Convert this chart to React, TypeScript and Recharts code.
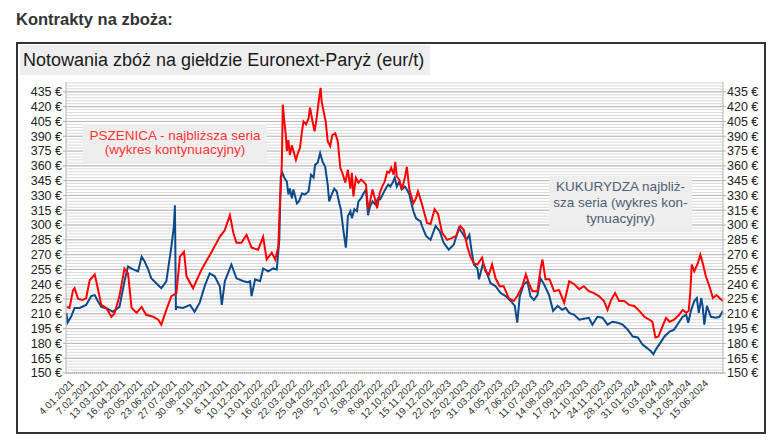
import React from "react";
import { LineChart, Line, XAxis, YAxis, CartesianGrid } from "recharts";

// dni liczone od 4.01.2021
const START = Date.UTC(2021, 0, 4);

const tickLabels = [
  "4.01.2021", "7.02.2021", "13.03.2021", "16.04.2021", "20.05.2021", "23.06.2021",
  "27.07.2021", "30.08.2021", "3.10.2021", "6.11.2021", "10.12.2021", "13.01.2022",
  "16.02.2022", "22.03.2022", "25.04.2022", "29.05.2022", "2.07.2022", "5.08.2022",
  "8.09.2022", "12.10.2022", "15.11.2022", "19.12.2022", "22.01.2023", "25.02.2023",
  "31.03.2023", "4.05.2023", "7.06.2023", "11.07.2023", "14.08.2023", "17.09.2023",
  "21.10.2023", "24.11.2023", "28.12.2023", "31.01.2024", "5.03.2024", "8.04.2024",
  "12.05.2024", "15.06.2024",
];

const priceTicks = [150, 165, 180, 195, 210, 225, 240, 255, 270, 285, 300, 315, 330, 345, 360, 375, 390, 405, 420, 435];

// pszenica - najbliższa seria
const wheatDays = [
  -6, 0, 7, 10, 17, 26, 33, 40, 50, 56, 63, 73, 83, 89, 99, 109, 116, 123, 133, 143,
  152, 166, 176, 182, 192, 202, 212, 219, 227, 232, 245, 262, 282, 298, 308, 318, 325, 331, 341, 351,
  361, 374, 384, 391, 401, 408, 414, 417,
  421, 423, 426, 429, 431, 434, 437, 441, 444, 449, 453, 457, 461, 464, 469, 474, 477, 482, 486, 490,
  495, 498, 500, 504, 508, 512, 517, 521, 527, 532, 537, 541, 547, 552, 557, 560, 563, 568, 573, 578,
  583, 588, 592, 596, 601, 606, 610, 615, 620, 625, 630, 634, 638, 643, 646, 649, 654, 659, 665, 669,
  674, 678, 682, 687, 691, 696,
  699, 709, 716, 724, 731, 739, 749, 759, 767, 775, 782, 789, 795, 802, 809, 818, 825, 832, 838, 845,
  853, 861, 871, 881, 888, 898, 905, 911, 918, 928, 934, 938, 944, 952, 961, 971, 981, 991, 1001, 1011,
  1020, 1030, 1040, 1050, 1060, 1067, 1074, 1082, 1090, 1100, 1110, 1120, 1130, 1140, 1150, 1156, 1162, 1168, 1175, 1183,
  1190, 1199, 1209, 1216, 1223, 1228, 1231, 1234, 1239, 1246, 1251, 1256, 1262, 1269, 1276, 1283, 1289, 1296,
];
const wheatPrices = [
  217, 216, 234, 236, 225, 224, 226, 244, 250, 236, 219, 216, 207, 210, 228, 256, 251, 216, 211, 217,
  209, 207, 204, 199, 214, 228, 231, 268, 273, 248, 236, 255, 273, 288, 295, 310, 292, 282, 282, 290,
  277, 275, 288, 265, 272, 265, 278, 319,
  361, 422, 405, 391, 375, 386, 371, 381, 375, 366, 373, 378, 395, 405, 402, 408, 419, 405, 395, 408,
  429, 439, 425, 415, 405, 385, 380, 391, 393, 385, 358, 353, 343, 356, 337, 353, 329, 348, 343, 346,
  344, 341, 316, 324, 336, 326, 317, 332, 339, 344, 354, 353, 358, 351, 364, 349, 346, 336, 348, 359,
  336, 329, 322, 327, 334, 326,
  321, 302, 301, 316, 311, 292, 285, 287, 289, 299, 295, 278, 268, 261, 260, 267, 253, 250, 260, 246,
  238, 238, 226, 223, 228, 238, 250, 241, 233, 233, 255, 265, 245, 245, 233, 234, 221, 243, 240, 235,
  238, 233, 231, 228, 223, 214, 224, 231, 223, 223, 219, 218, 213, 207, 204, 202, 186, 187, 196, 206,
  202, 204, 209, 214, 211, 213, 231, 260, 253, 261, 270, 261, 248, 238, 226, 229, 226, 223,
];

// kukurydza - najbliższa seria
const cornDays = [
  -6, -4, 3, 10, 20, 33, 43, 50, 56, 63, 76, 86, 99, 109, 116, 126, 136, 143, 149, 156,
  162, 172, 182, 192, 202, 207, 209, 211, 212, 225, 239, 248, 258, 268, 278, 288, 298, 302, 308, 321,
  331, 345, 354, 358, 361, 368, 378, 384, 394, 404, 411, 416,
  419, 422, 426, 431, 434, 437, 441, 444, 449, 451, 455, 461, 467, 474, 479, 484, 487, 492, 497, 502,
  507, 512, 515, 520, 525, 530, 535, 538, 543, 548, 550, 552, 557, 560, 565, 570, 573, 578, 583, 588,
  592, 596, 601, 606, 612, 616, 621, 626, 632, 636, 641, 645, 649, 654, 659, 665, 669, 674, 678, 682,
  687, 692, 696,
  699, 707, 716, 726, 734, 742, 752, 762, 772, 779, 787, 793, 797, 802, 809, 812, 820, 828, 835, 845,
  855, 865, 875, 883, 888, 893, 901, 908, 914, 921, 928, 934, 941, 951, 959, 968, 977, 984, 991, 1001,
  1011, 1020, 1030, 1037, 1047, 1057, 1067, 1077, 1087, 1097, 1107, 1117, 1127, 1136, 1146, 1153, 1158, 1163, 1171, 1180,
  1190, 1199, 1208, 1216, 1223, 1227, 1233, 1239, 1244, 1248, 1253, 1256, 1259, 1264, 1272, 1282, 1289, 1296,
];
const cornPrices = [
  211, 201, 207, 216, 216, 219, 228, 229, 223, 217, 215, 212, 217, 243, 258, 255, 253, 268, 263, 255,
  246, 241, 236, 243, 278, 299, 320, 214, 217, 216, 219, 212, 221, 238, 251, 248, 238, 219, 243, 260,
  246, 243, 242, 243, 228, 245, 243, 256, 253, 256, 255, 285,
  349, 353, 348, 344, 331, 337, 327, 336, 326, 322, 324, 332, 331, 334, 351, 348, 361, 363, 373, 364,
  359, 341, 324, 331, 337, 334, 322, 316, 295, 277, 290, 309, 314, 307, 316, 314, 324, 327, 332, 336,
  310, 319, 324, 321, 327, 326, 331, 336, 341, 339, 343, 348, 339, 344, 336, 339, 336, 331, 322, 314,
  307, 305, 304,
  299, 289, 285, 299, 294, 282, 275, 280, 297, 292, 285, 290, 275, 260, 256, 245, 261, 251, 241, 238,
  231, 228, 223, 218, 201, 228, 240, 243, 228, 224, 229, 246, 240, 229, 213, 218, 214, 216, 211, 209,
  204, 205, 206, 199, 207, 206, 199, 202, 201, 199, 194, 187, 186, 179, 175, 172, 169, 174, 180, 187,
  192, 194, 201, 207, 209, 201, 214, 223, 226, 211, 226, 216, 199, 218, 207, 206, 207, 213,
];

const toDay = (s: string) => {
  const [d, m, y] = s.split(".").map(Number);
  return Math.round((Date.UTC(y, m - 1, d) - START) / 86400000);
};
const tickDays = tickLabels.map(toDay);
const labelByDay = new Map(tickDays.map((d, i) => [d, tickLabels[i]]));

const wheatData = wheatDays.map((day, i) => ({ day, price: wheatPrices[i] }));
const cornData = cornDays.map((day, i) => ({ day, price: cornPrices[i] }));

const minorLines = Array.from({ length: 99 }, (_, i) => 150 + i * 3);

const FONT = '"Liberation Sans", Arial, sans-serif';

function DateTick(props: any) {
  const { x, y, payload } = props;
  return (
    <text
      transform={`translate(${x + 5},${y + 11}) rotate(-45)`}
      textAnchor="end"
      fontSize={10}
      fontFamily={FONT}
      fill="#333"
    >
      {labelByDay.get(payload.value)}
    </text>
  );
}

const euro = (v: number) => `${v} €`;

export default function App() {
  return (
    <div style={{ position: "absolute", left: 0, top: 0, width: 779, height: 445, background: "#fff", fontFamily: FONT }}>
      <div style={{ position: "absolute", left: 16, top: 8.5, fontSize: 16.5, lineHeight: "20px", fontWeight: "bold", color: "#333", whiteSpace: "nowrap" }}>
        Kontrakty na zboża:
      </div>
      <div style={{ position: "absolute", left: 16, top: 42, width: 750, height: 392, border: "2px solid #333", boxSizing: "border-box" }} />

      <div style={{ position: "absolute", left: 0, top: 0 }}>
        <LineChart width={779} height={445} margin={{ top: 82, right: 6, bottom: 12, left: 16 }}>
          <CartesianGrid yAxisId="left" vertical={false} horizontalValues={minorLines} stroke="#d9d9d9" strokeWidth={1} />
          <CartesianGrid yAxisId="left" vertical={false} horizontalValues={priceTicks} stroke="#b8b8b8" strokeWidth={1} />
          <XAxis
            dataKey="day"
            type="number"
            domain={[-7, 1296]}
            allowDataOverflow
            ticks={tickDays}
            interval={0}
            tick={<DateTick />}
            tickLine={false}
            tickSize={0}
            tickMargin={0}
            height={60}
            axisLine={{ stroke: "#aaa", strokeDasharray: "1 1" }}
          />
          <YAxis
            yAxisId="left"
            domain={[150, 445]}
            allowDataOverflow
            ticks={priceTicks}
            interval={0}
            width={50}
            tickSize={3}
            tickMargin={1}
            tickFormatter={euro}
            tick={{ fill: "#222", fontSize: 12.5, fontFamily: FONT }}
            axisLine={{ stroke: "#b3b3b3" }}
            tickLine={{ stroke: "#b3b3b3" }}
          />
          <YAxis
            yAxisId="right"
            orientation="right"
            domain={[150, 445]}
            allowDataOverflow
            ticks={priceTicks}
            interval={0}
            width={50}
            tickSize={3}
            tickMargin={1}
            tickFormatter={euro}
            tick={{ fill: "#222", fontSize: 12.5, fontFamily: FONT, textAnchor: "start" }}
            axisLine={{ stroke: "#b3b3b3" }}
            tickLine={{ stroke: "#b3b3b3" }}
          />
          <Line yAxisId="left" data={cornData} dataKey="price" type="linear" stroke="#0b4a8b" strokeWidth={2} dot={false} isAnimationActive={false} />
          <Line yAxisId="left" data={wheatData} dataKey="price" type="linear" stroke="#ff0000" strokeWidth={2} dot={false} isAnimationActive={false} />
        </LineChart>
      </div>

      <div style={{ position: "absolute", left: 20, top: 45, width: 410, height: 30, background: "#eeeeee", color: "#1a1a1a", fontSize: 18, lineHeight: "30px", paddingLeft: 3, boxSizing: "border-box", whiteSpace: "nowrap" }}>
        Notowania zbóż na giełdzie Euronext-Paryż (eur/t)
      </div>
      <div style={{ position: "absolute", left: 83, top: 124, width: 184, height: 38, background: "#eeeeee", color: "#ff3333", fontSize: 13.5, lineHeight: "14.6px", paddingTop: 4.7, boxSizing: "border-box", textAlign: "center", whiteSpace: "nowrap" }}>
        PSZENICA - najbliższa seria
        <br />
        (wykres kontynuacyjny)
      </div>
      <div style={{ position: "absolute", left: 549, top: 176, width: 143, height: 54, background: "#eeeeee", color: "#4f6076", fontSize: 13.5, lineHeight: "15.8px", paddingTop: 3, boxSizing: "border-box", textAlign: "center", whiteSpace: "nowrap" }}>
        KUKURYDZA najbliż-
        <br />
        sza seria (wykres kon-
        <br />
        tynuacyjny)
      </div>
    </div>
  );
}
